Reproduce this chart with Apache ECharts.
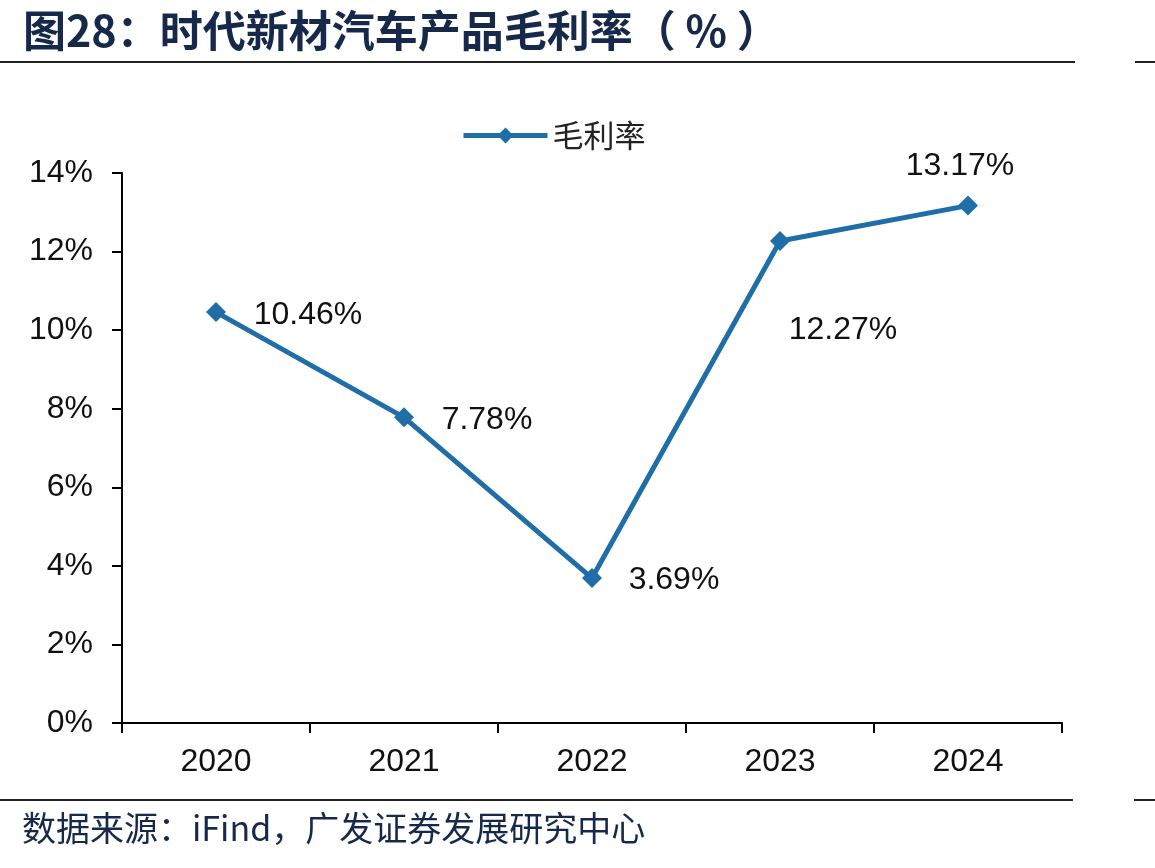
<!DOCTYPE html>
<html>
<head>
<meta charset="utf-8">
<script src="https://cdn.jsdelivr.net/npm/echarts@6/dist/echarts.min.js"></script>
<style>
    html, body { margin: 0; padding: 0; background: #fff; }
    #chart { width: 1155px; height: 868px; }
</style>
</head>
<body>
<div id="chart"></div>
<script>
const years = ["2020", "2021", "2022", "2023", "2024"];
const grossMargin = [10.46, 7.78, 3.69, 12.27, 13.17];
const yTicks = [0, 2, 4, 6, 8, 10, 12, 14];
// label offsets, relative to each point
const labelOffsets = [[92, 3], [83, 3], [82, 2], [63, 89], [-8, -39]];

const lineColor = "#1f6ea8";
const textFont = "Arial, 'Liberation Sans', 'Noto Sans CJK SC', sans-serif";
const navy = "#17294a";

let chart = echarts.init(document.getElementById("chart"));

const option = {
    animation: false,
    backgroundColor: "#fff",
    title: {
        text: "图28：时代新材汽车产品毛利率（ % ）",
        left: 18,
        top: 4,
        textStyle: {
            fontSize: 43,
            fontWeight: "bold",
            color: navy,
            fontFamily: "'Noto Sans CJK SC', sans-serif"
        }
    },
    legend: {
        data: ["毛利率"],
        left: 456,
        top: 115,
        itemWidth: 84,
        itemHeight: 20,
        itemGap: 6,
        lineStyle: { width: 5 },
        textStyle: {
            fontSize: 31,
            color: "#222",
            fontFamily: "'Noto Sans CJK SC', sans-serif"
        }
    },
    grid: {
        left: 122,
        right: 1155 - 1062,
        top: 173,
        bottom: 868 - 723,
        containLabel: false
    },
    xAxis: {
        type: "category",
        data: years,
        boundaryGap: true,
        axisLine: { lineStyle: { color: "#000", width: 2 } },
        axisTick: { show: true, length: 10, lineStyle: { color: "#000", width: 2 } },
        axisLabel: {
            fontSize: 32,
            color: "#111",
            margin: 23,
            fontFamily: textFont
        },
        splitLine: { show: false }
    },
    yAxis: {
        type: "value",
        min: yTicks[0],
        max: yTicks[yTicks.length - 1],
        interval: 2,
        axisLine: { show: true, lineStyle: { color: "#000", width: 2 } },
        axisTick: { show: true, length: 10, lineStyle: { color: "#000", width: 2 } },
        axisLabel: {
            fontSize: 32,
            color: "#111",
            margin: 29,
            fontFamily: textFont,
            formatter: v => v + "%"
        },
        splitLine: { show: false }
    },
    series: [
        {
            name: "毛利率",
            type: "line",
            data: grossMargin.map((v, i) => ({
                value: v,
                label: { offset: labelOffsets[i] }
            })),
            symbol: "diamond",
            symbolSize: 20,
            lineStyle: { color: lineColor, width: 5 },
            itemStyle: { color: lineColor },
            label: {
                show: true,
                position: "inside",
                fontSize: 32,
                color: "#111",
                fontFamily: textFont,
                formatter: p => p.value.toFixed(2) + "%"
            }
        }
    ],
    graphic: [
        { type: "line", shape: { x1: 0, y1: 62, x2: 1075, y2: 62 }, style: { stroke: "#222", lineWidth: 2 } },
        { type: "line", shape: { x1: 1135, y1: 62, x2: 1155, y2: 62 }, style: { stroke: "#222", lineWidth: 2 } },
        { type: "line", shape: { x1: 0, y1: 800, x2: 1073, y2: 800 }, style: { stroke: "#222", lineWidth: 2 } },
        { type: "line", shape: { x1: 1134, y1: 800, x2: 1155, y2: 800 }, style: { stroke: "#222", lineWidth: 2 } },
        {
            type: "text",
            left: 22,
            top: 811,
            style: {
                text: "数据来源：iFind，广发证券发展研究中心",
                fontSize: 34,
                fill: navy,
                fontFamily: "'Noto Sans CJK SC', sans-serif"
            }
        }
    ]
};

chart.setOption(option, true);
</script>
</body>
</html>
